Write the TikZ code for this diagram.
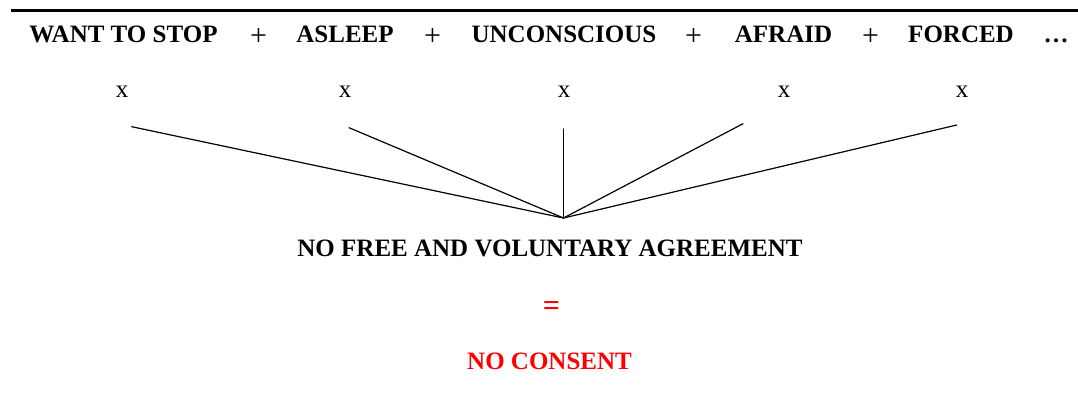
\documentclass[tikz,border=0pt]{standalone}
\usepackage{fontspec}
\setmainfont{Liberation Serif}
\begin{document}
\begin{tikzpicture}[x=1pt,y=-1pt,
  head/.style={anchor=base,inner sep=0pt,font=\fontsize{25}{30}\selectfont\bfseries},
  plus/.style={anchor=base,inner sep=0pt,font=\fontsize{30}{36}\selectfont},
  xlabel/.style={anchor=base,inner sep=0pt,font=\fontsize{25}{30}\selectfont},
  redtext/.style={head,text=red},
  spoke/.style={line width=1.2pt,line cap=round}]
\useasboundingbox (0,0) rectangle (1078,392);
\draw[line width=3pt] (11,10.5) -- (1078,10.5);
% top row
\node[head] (t1) at (123.5,42) {WANT TO STOP};
\node[plus] (p1) at (258.5,45) {+};
\node[head] (t2) at (345,42) {ASLEEP};
\node[plus] (p2) at (432.5,45) {+};
\node[head] (t3) at (564,42) {UNCONSCIOUS};
\node[plus] (p3) at (693.5,45) {+};
\node[head] (t4) at (783.5,42) {AFRAID};
\node[plus] (p4) at (870.5,45) {+};
\node[head] (t5) at (961,42) {FORCED};
\node[head] (dots) at (1056,42) {…};
% x row
\node[xlabel] (x1) at (122,97) {x};
\node[xlabel] (x2) at (345,97) {x};
\node[xlabel] (x3) at (564,97) {x};
\node[xlabel] (x4) at (784,97) {x};
\node[xlabel] (x5) at (962,97) {x};
% spokes
\coordinate (s1) at (131.7,126.7);
\coordinate (s2) at (349,127.7);
\coordinate (s3) at (563.5,129);
\coordinate (s4) at (743,123.7);
\coordinate (s5) at (956.7,125);
\coordinate (hub) at (563.5,218);
\foreach \s in {s1,s2,s3,s4,s5} \draw[spoke] (\s) -- (hub);
% bottom
\node[head] (agree) at (550,256) {NO FREE AND VOLUNTARY AGREEMENT};
\node[redtext,font=\fontsize{30}{36}\selectfont\bfseries] (eq) at (551.5,315) {=};
\node[redtext] (consent) at (549.5,369) {NO CONSENT};
\end{tikzpicture}
\end{document}
